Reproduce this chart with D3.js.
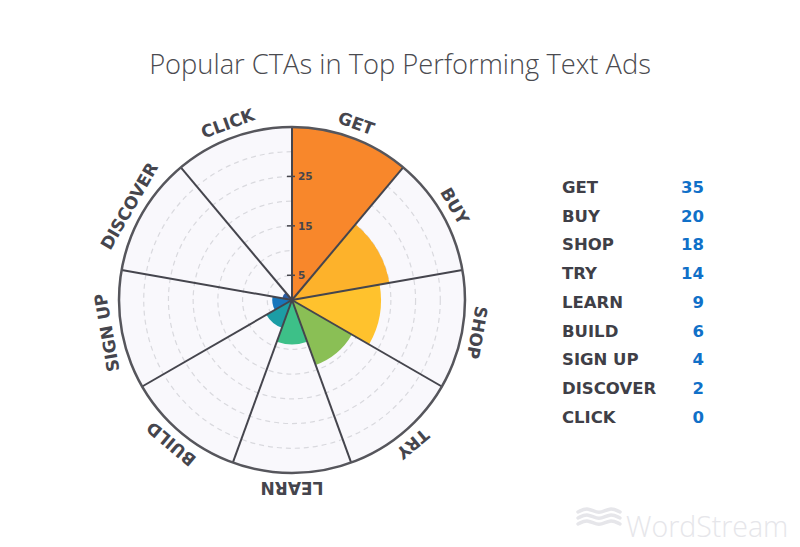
<!DOCTYPE html>
<html>
<head>
<meta charset="utf-8">
<script src="https://cdn.jsdelivr.net/npm/d3@7"></script>
<style>
  body { margin: 0; background: #fff; }
  svg { display: block; }
</style>
</head>
<body>
<div id="chart"></div>
<script>
// data
let categories = ["GET", "BUY", "SHOP", "TRY", "LEARN", "BUILD", "SIGN UP", "DISCOVER", "CLICK"]
let counts = [35, 20, 18, 14, 9, 6, 4, 2, 0]
let colors = ["#f8872b", "#fdb22b", "#ffc22d", "#8abf55", "#3dc088", "#1c9da5", "#1876bc", "#2a5ea6", "#8a6fb5"]
let radialTicks = [5, 15, 25]
let gridRings = [5, 10, 15, 20, 25, 30]

let width = 800, height = 547
let cx = 292, cy = 300, outerR = 173

let svg = d3.select("#chart").append("svg")
	.attr("width", width)
	.attr("height", height)

//Title
svg.append("text")
	.attr("x", 400)
	.attr("y", 74)
	.attr("text-anchor", "middle")
	.style("font-family", "'Open Sans', sans-serif")
	.style("font-weight", "300")
	.style("font-size", "27.3px")
	.style("fill", "#4a4a4f")
	.text("Popular CTAs in Top Performing Text Ads")

let polar = svg.append("g")
	.attr("transform", "translate(" + cx + "," + cy + ")")

let rscale = d3.scaleLinear()
	.domain([0, 35])
	.range([0, outerR])

let ascale = d3.scaleBand()
	.domain(categories)
	.range([0, 2 * Math.PI])

//background disc
polar.append("circle")
	.attr("r", outerR)
	.attr("fill", "#f9f8fc")

//dashed grid rings
polar.selectAll(".ring")
	.data(gridRings)
	.enter()
	.append("circle")
	.attr("class", "ring")
	.attr("r", d => rscale(d))
	.attr("fill", "none")
	.attr("stroke", "#d9d9de")
	.attr("stroke-width", 1.2)
	.attr("stroke-dasharray", "5,4")

//bars
let arc = d3.arc()
	.innerRadius(0)
	.outerRadius(d => rscale(d.value))
	.startAngle(d => ascale(d.name))
	.endAngle(d => ascale(d.name) + ascale.bandwidth())

let bars = categories.map((c, i) => ({name: c, value: counts[i], color: colors[i]}))

polar.selectAll(".bar")
	.data(bars.filter(d => d.value > 0))
	.enter()
	.append("path")
	.attr("class", "bar")
	.attr("d", arc)
	.attr("fill", d => d.color)

//sector dividers
polar.selectAll(".spoke")
	.data(categories)
	.enter()
	.append("line")
	.attr("class", "spoke")
	.attr("x1", 0)
	.attr("y1", 0)
	.attr("x2", d => outerR * Math.sin(ascale(d)))
	.attr("y2", d => -outerR * Math.cos(ascale(d)))
	.attr("stroke", "#45454d")
	.attr("stroke-width", 2)

//outer circle
polar.append("circle")
	.attr("r", outerR)
	.attr("fill", "none")
	.attr("stroke", "#56565c")
	.attr("stroke-width", 2.5)

//radial axis ticks
let rticks = polar.selectAll(".rtick")
	.data(radialTicks)
	.enter()
	.append("g")
	.attr("class", "rtick")
	.attr("transform", d => "translate(0," + (-rscale(d)) + ")")

rticks.append("line")
	.attr("x1", -5)
	.attr("x2", 3)
	.attr("stroke", "#45454d")
	.attr("stroke-width", 1.5)

rticks.append("text")
	.attr("x", 6)
	.attr("dy", "0.35em")
	.style("font-family", "'DejaVu Sans', sans-serif")
	.style("font-weight", "bold")
	.style("font-size", "10.5px")
	.style("fill", "#45454d")
	.text(d => d)

//angular labels
polar.selectAll(".alabel")
	.data(categories)
	.enter()
	.append("text")
	.attr("class", "alabel")
	.attr("transform", d => {
		let a = ascale(d) + ascale.bandwidth() / 2
		let deg = a * 180 / Math.PI
		return "rotate(" + deg + ") translate(0," + (-(outerR + 9)) + ")"
	})
	.attr("text-anchor", "middle")
	.style("font-family", "'DejaVu Sans', sans-serif")
	.style("font-weight", "bold")
	.style("font-size", "17px")
	.style("fill", "#45454d")
	.text(d => d)

//legend table
let yLegend = d3.scalePoint()
	.domain(categories)
	.range([187, 417])

let legend = svg.append("g")

legend.selectAll(".lname")
	.data(categories)
	.enter()
	.append("text")
	.attr("x", 562)
	.attr("y", d => yLegend(d))
	.attr("dy", "0.36em")
	.style("font-family", "'DejaVu Sans', sans-serif")
	.style("font-weight", "bold")
	.style("font-size", "16.5px")
	.style("fill", "#3f3f47")
	.text(d => d)

legend.selectAll(".lval")
	.data(bars)
	.enter()
	.append("text")
	.attr("x", 704)
	.attr("y", d => yLegend(d.name))
	.attr("dy", "0.36em")
	.attr("text-anchor", "end")
	.style("font-family", "'DejaVu Sans', sans-serif")
	.style("font-weight", "bold")
	.style("font-size", "16.5px")
	.style("fill", "#1070c8")
	.text(d => d.value)

//watermark
let mark = svg.append("g")
	.attr("transform", "translate(578,518)")
	.attr("fill", "none")
	.attr("stroke", "#e6e6ea")
	.attr("stroke-width", 3.5)
	.attr("stroke-linecap", "round")

let wave = d3.line().curve(d3.curveBasis)
;[-6, 0, 6].forEach(off => {
	mark.append("path")
		.attr("d", wave([[0, off], [10, off - 5], [21, off + 3], [32, off - 5], [42, off]]))
})

svg.append("text")
	.attr("x", 626)
	.attr("y", 537)
	.style("font-family", "'Open Sans', sans-serif")
	.style("font-weight", "300")
	.style("font-size", "28.5px")
	.style("fill", "#e6e6ea")
	.text("WordStream")
</script>
</body>
</html>
